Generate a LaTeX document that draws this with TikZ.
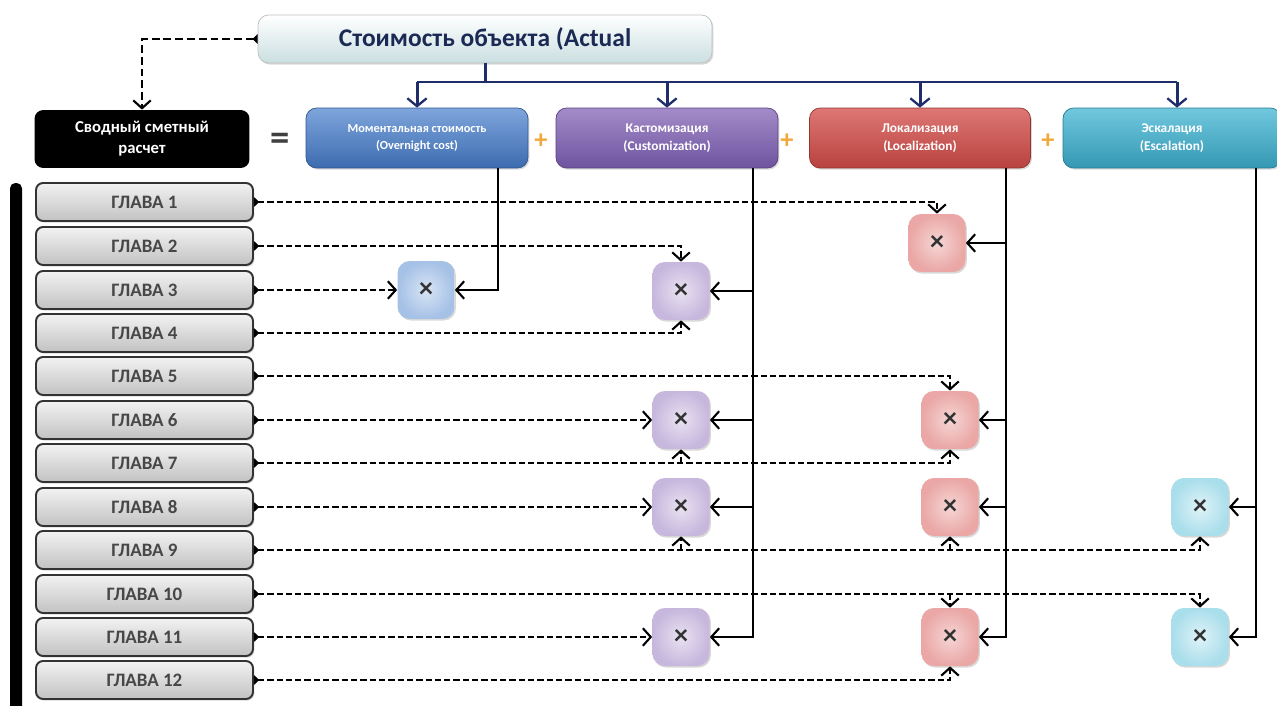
\documentclass[tikz,border=0pt]{standalone}
\usepackage{fontspec}
\setmainfont{Carlito}
\usetikzlibrary{arrows.meta,shadows,calc}

\definecolor{navy}{HTML}{1F2D6B}
\definecolor{titletxt}{HTML}{1B2A55}
\definecolor{plusor}{HTML}{F2A93B}
\definecolor{HTMLblueT}{HTML}{7EA6DC}
\definecolor{HTMLblueB}{HTML}{3D6BB0}
\definecolor{HTMLpurT}{HTML}{A48BC8}
\definecolor{HTMLpurB}{HTML}{6E54A0}
\definecolor{HTMLredT}{HTML}{DE7774}
\definecolor{HTMLredB}{HTML}{B8423F}
\definecolor{HTMLcyT}{HTML}{70C8DE}
\definecolor{HTMLcyB}{HTML}{3598B4}

\tikzset{
  softshadow/.style={drop shadow={opacity=0.30, shadow xshift=0.8pt, shadow yshift=-0.9pt}},
  titlebox/.style={rounded corners=6pt, draw=black!25, top color=white, bottom color=blue!8!cyan!10!white!88!black,
    minimum width=9.08cm, minimum height=0.96cm, font=\bfseries\fontsize{14.5}{16}\selectfont, text=titletxt, softshadow},
  sumbox/.style={rounded corners=5pt, fill=black, text=white, align=center,
    minimum width=4.3cm, minimum height=1.16cm, font=\bfseries\fontsize{9.5}{12}\selectfont},
  catbox/.style={rounded corners=6pt, text=white, align=center, minimum height=1.2cm,
    font=\bfseries\fontsize{7.6}{10}\selectfont, softshadow},
  catblue/.style={catbox, minimum width=4.44cm, top color=HTMLblueT, bottom color=HTMLblueB, draw=HTMLblueB!80!black, font=\bfseries\fontsize{7}{9.5}\selectfont},
  catpurple/.style={catbox, minimum width=4.44cm, top color=HTMLpurT, bottom color=HTMLpurB, draw=HTMLpurB!80!black},
  catred/.style={catbox, minimum width=4.42cm, top color=HTMLredT, bottom color=HTMLredB, draw=HTMLredB!80!black},
  catcyan/.style={catbox, minimum width=4.36cm, top color=HTMLcyT, bottom color=HTMLcyB, draw=HTMLcyB!80!black},
  chapter/.style={rounded corners=4pt, draw=black!80, line width=1.1pt, top color=white!95!black, bottom color=black!24,
    minimum width=4.34cm, minimum height=0.76cm, font=\bfseries\fontsize{10.8}{12}\selectfont, text=black!72, softshadow},
  mult/.style={rounded corners=7pt, minimum width=1.14cm, minimum height=1.16cm,
    font=\bfseries\fontsize{16}{16}\selectfont, text=black!80, softshadow},
  multB/.style={mult, inner color=HTMLblueT!30, outer color=HTMLblueT!70},
  multP/.style={mult, inner color=HTMLpurT!25, outer color=HTMLpurT!62},
  multR/.style={mult, inner color=HTMLredT!30, outer color=HTMLredT!65},
  multC/.style={mult, inner color=HTMLcyT!22, outer color=HTMLcyT!60},
  plussign/.style={font=\bfseries\fontsize{15}{15}\selectfont, text=plusor, inner sep=0pt},
  eqsign/.style={font=\bfseries\fontsize{22}{22}\selectfont, text=black!75, inner sep=0pt},
  barb/.tip={Straight Barb[length=4.5pt,width=10pt,line width=1.2pt]},
  dline/.style={line width=1.2pt, dash pattern=on 3.6pt off 1.7pt,
    {Triangle[reversed,length=3pt,width=5.5pt]}-barb},
  dbranch/.style={line width=1.2pt, dash pattern=on 3.6pt off 1.7pt, -barb},
  feed/.style={line width=1.1pt, -barb},
  tree/.style={line width=1.7pt, draw=navy},
  treearrow/.style={line width=1.7pt, draw=navy, -{Straight Barb[length=4.5pt,width=11pt,line width=1.3pt]}},
}

\begin{document}
\begin{tikzpicture}[x=0.02cm, y=-0.02cm]
\useasboundingbox[fill=white] (0,0) rectangle (1277,706);

% header and summary
\node[titlebox] (top) at (485,39) {Стоимость объекта (Actual};
\node[sumbox] (sum) at (142,139) {Сводный сметный\\расчет};
\node[eqsign] (eq) at (280,142) {=};

% cost components
\node[catblue]   (blue)   at (417,138)  {Моментальная стоимость\\(Overnight cost)};
\node[catpurple] (purple) at (667,138)  {Кастомизация\\(Customization)};
\node[catred]    (red)    at (920,138)  {Локализация\\(Localization)};
\node[catcyan]   (cyan)   at (1172,138) {Эскалация\\(Escalation)};
\node[plussign] (p1) at (541,141) {+};
\node[plussign] (p2) at (787,141) {+};
\node[plussign] (p3) at (1048,141) {+};

% left bracket
\fill[black, rounded corners=3pt] (10,183) rectangle (22,712);

% chapters
\foreach \i/\y in {1/202,2/246,3/290,4/333,5/376,6/420,7/463,8/507,9/550,10/594,11/637,12/680}{
  \node[chapter] (ch\i) at (144.5,\y) {ГЛАВА \i};
}

% multiplication cells
\node[multB] (mB3)  at (426,290)  {×};
\node[multP] (mP3)  at (681,291)  {×};
\node[multP] (mP6)  at (681,420)  {×};
\node[multP] (mP8)  at (681,507)  {×};
\node[multP] (mP11) at (681,637)  {×};
\node[multR] (mR2)  at (937,243)  {×};
\node[multR] (mR6)  at (950,420)  {×};
\node[multR] (mR8)  at (950,507)  {×};
\node[multR] (mR11) at (950,637)  {×};
\node[multC] (mC8)  at (1200,507) {×};
\node[multC] (mC11) at (1200,637) {×};

% tree from the header
\coordinate (hub) at (485,82);
\draw[tree] (top.south) -- (hub);
\draw[tree] (hub -| blue.north) -- (hub -| 1177,0);
\draw[treearrow] (hub -| blue.north) -- (blue.north);
\draw[treearrow] (hub -| purple.north) -- (purple.north);
\draw[treearrow] (hub -| red.north) -- (red.north);
\draw[treearrow] (hub -| 1177,0) -- (cyan.north -| 1177,0);

% header to summary
\draw[dline, line width=1.5pt, dash pattern=on 4.5pt off 2.2pt] (top.west) -| (sum.north);

% component buses
\coordinate (busB) at (498,168);
\coordinate (busP) at (753,168);
\coordinate (busR) at (1006,168);
\coordinate (busC) at (1256,168);
\draw[feed] (busB) |- (mB3.east);
\draw[feed] (busP) |- (mP11.east);
\draw[feed] (busP |- mP3.east) -- (mP3.east);
\draw[feed] (busP |- mP6.east) -- (mP6.east);
\draw[feed] (busP |- mP8.east) -- (mP8.east);
\draw[feed] (busR) |- (mR11.east);
\draw[feed] (busR |- mR2.east) -- (mR2.east);
\draw[feed] (busR |- mR6.east) -- (mR6.east);
\draw[feed] (busR |- mR8.east) -- (mR8.east);
\draw[feed] (busC) |- (mC11.east);
\draw[feed] (busC |- mC8.east) -- (mC8.east);

% chapter links
\draw[dline] (ch1.east) -| (mR2.north);
\draw[dline] (ch2.east) -| (mP3.north);
\draw[dline] (ch3.east) -- (mB3.west);
\draw[dline] (ch4.east) -| (mP3.south);
\draw[dline] (ch5.east) -| (mR6.north);
\draw[dline] (ch6.east) -- (mP6.west);
\draw[dline] (ch7.east) -| (mR6.south);
\draw[dbranch] (ch7.east -| mP6.south) -- (mP6.south);
\draw[dline] (ch8.east) -- (mP8.west);
\draw[dline] (ch9.east) -| (mC8.south);
\draw[dbranch] (ch9.east -| mP8.south) -- (mP8.south);
\draw[dbranch] (ch9.east -| mR8.south) -- (mR8.south);
\draw[dline] (ch10.east) -| (mC11.north);
\draw[dbranch] (ch10.east -| mR11.north) -- (mR11.north);
\draw[dline] (ch11.east) -- (mP11.west);
\draw[dline] (ch12.east) -| (mR11.south);
\end{tikzpicture}
\end{document}
